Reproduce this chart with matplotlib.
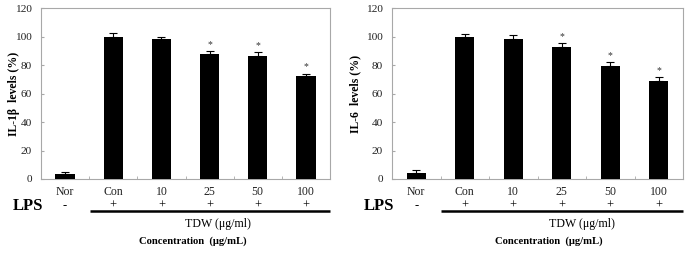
import matplotlib
matplotlib.use("Agg")
import matplotlib.pyplot as plt
import numpy as np

plt.rcParams["font.family"] = ["Liberation Serif", "DejaVu Serif"]

groups = ["Nor", "Con", "10", "25", "50", "100"]
lps_marks = ["-", "+", "+", "+", "+", "+"]

il1b_vals = [3.5, 100, 98, 87.5, 86, 72]
il1b_err = [1.5, 2.5, 2, 2, 3, 2]
il1b_star = [False, False, False, True, True, True]

il6_vals = [4.5, 100, 98, 92.5, 79.5, 69]
il6_err = [1.5, 1.5, 3, 3, 2.5, 2.5]
il6_star = [False, False, False, True, True, True]

panels = [
    ("IL-1\u03b2  levels (%)", il1b_vals, il1b_err, il1b_star,
     [41 / 688, 0.2953, 289 / 688, 0.673], -0.074, 0.612, 0.526),
    ("IL-6  levels (%)", il6_vals, il6_err, il6_star,
     [392 / 688, 0.2953, 291 / 688, 0.673], -0.105, 0.653, 0.54),
]

fig = plt.figure(figsize=(6.88, 2.54), dpi=100)
frame_col = "#a8a8a8"

for ylab, vals, err, star, rect, ylx, tdw_x, conc_x in panels:
    ax = fig.add_axes(rect)
    x = np.arange(len(groups))
    ax.bar(x, vals, width=0.4, color="black", zorder=3)
    ax.errorbar(x, vals, yerr=[np.zeros(len(err)), err], fmt="none",
                ecolor="black", elinewidth=0.8, capsize=3, capthick=0.8, zorder=2)
    for xi, v, e, s in zip(x, vals, err, star):
        if s:
            ax.text(xi, v + e + 1.5, "*", ha="center", va="bottom", fontsize=7,
                    color="#333333")

    ax.set_xlim(-0.5, 5.5)
    ax.set_ylim(0, 120)
    ax.set_yticks(np.arange(0, 121, 20))
    ax.tick_params(axis="y", labelsize=8.2, length=2, direction="in",
                   color=frame_col, labelcolor="#222222", pad=6.5)
    ax.set_xticks([])
    ax.set_xticks(np.arange(0.5, 5.5, 1), minor=True)
    ax.tick_params(axis="x", which="minor", direction="in", length=2,
                   color=frame_col)
    for sp in ax.spines.values():
        sp.set_color(frame_col)
        sp.set_linewidth(0.8)

    ax.set_ylabel(ylab, fontsize=8.5, fontweight="bold")
    ax.yaxis.set_label_coords(ylx, 0.5)

    trans = ax.get_xaxis_transform()
    for xi, g, m in zip(x, groups, lps_marks):
        ax.text(xi, -0.076, g, transform=trans, ha="center", va="center",
                fontsize=8.5, color="#222222")
        ax.text(xi, -0.158, m, transform=trans, ha="center", va="center",
                fontsize=9)
    ax.text(-0.045, -0.158, "LPS", transform=ax.transAxes, ha="center",
            va="center", fontsize=12, fontweight="bold")
    ax.plot([0.52, 5.5], [-0.19, -0.19], transform=trans, color="black",
            lw=1.8, clip_on=False, solid_capstyle="butt")
    ax.text(tdw_x, -0.263, "TDW (\u03bcg/ml)", transform=ax.transAxes,
            ha="center", va="center", fontsize=8.6)
    ax.text(conc_x, -0.363, "Concentration  (\u03bcg/mL)", transform=ax.transAxes,
            ha="center", va="center", fontsize=7.7, fontweight="bold")

fig.savefig("out.png", dpi=100)
